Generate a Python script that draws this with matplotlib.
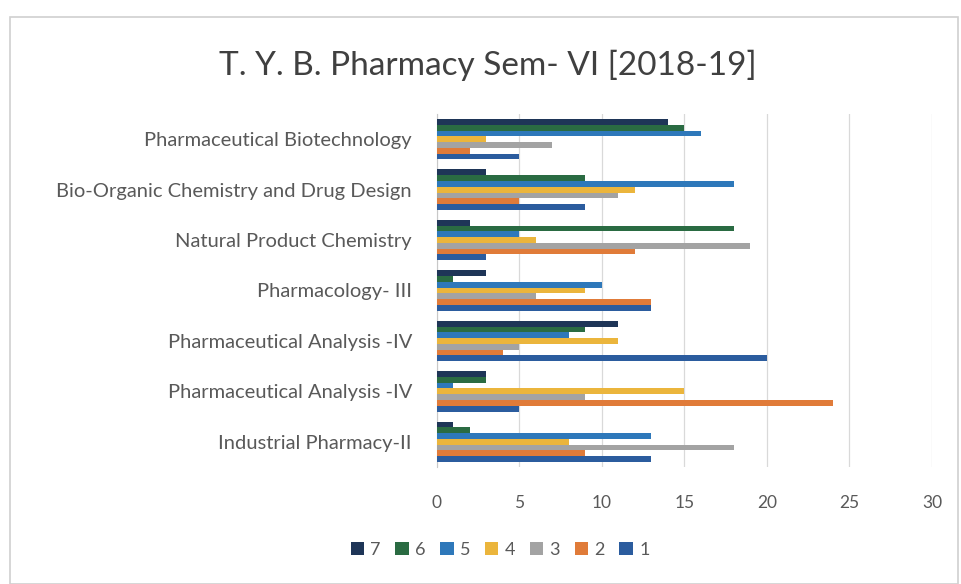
import matplotlib
matplotlib.use("Agg")
import matplotlib.pyplot as plt
import numpy as np
from matplotlib.patches import Rectangle

plt.rcParams['font.family'] = ['Lato', 'DejaVu Sans']

# categories, bottom to top (Excel order)
categories = ["Industrial Pharmacy-II",
              "Pharmaceutical Analysis -IV",
              "Pharmaceutical Analysis -IV",
              "Pharmacology- III",
              "Natural Product Chemistry",
              "Bio-Organic Chemistry and Drug Design",
              "Pharmaceutical Biotechnology"]

series_names = ["1", "2", "3", "4", "5", "6", "7"]
s1 = [13, 5, 20, 13, 3, 9, 5]
s2 = [9, 24, 4, 13, 12, 5, 2]
s3 = [18, 9, 5, 6, 19, 11, 7]
s4 = [8, 15, 11, 9, 6, 12, 3]
s5 = [13, 1, 8, 10, 5, 18, 16]
s6 = [2, 3, 9, 1, 18, 9, 15]
s7 = [1, 3, 11, 3, 2, 3, 14]
series = [s1, s2, s3, s4, s5, s6, s7]
colors = ["#2B5C9E", "#E07B39", "#A3A3A3", "#EBB53C", "#2E78BA", "#2A6B42", "#1E3557"]
xticks = [0, 5, 10, 15, 20, 25, 30]

fig = plt.figure(figsize=(9.62, 5.84), dpi=100)
fig.patches.append(Rectangle((10/962, 0), 948/962, 1 - 17/584, transform=fig.transFigure,
                             fill=False, edgecolor="#D0D0D0", linewidth=1.2))

ax = fig.add_axes([437/962, 1 - 467/584, (932 - 437)/962, (467 - 114)/584])

n = len(series)
bh = 0.8 / n
y = np.arange(len(categories))
for i, (vals, c, name) in enumerate(zip(series, colors, series_names)):
    ax.barh(y - 0.4 + bh * (i + 0.5), vals, height=bh, color=c, label=name, zorder=3)

ax.set_xlim(0, 30)
ax.set_ylim(-0.5, len(categories) - 0.5)
ax.set_xticks(xticks)
ax.set_xticklabels([str(t) for t in xticks])
ax.set_yticks(y)
ax.set_yticklabels(categories, fontsize=14.5)
ax.grid(axis='x', color="#D9D9D9", linewidth=0.9, zorder=0)
for s in ['top', 'right', 'bottom']:
    ax.spines[s].set_visible(False)
ax.spines['left'].set_color("#C8C8C8")
ax.tick_params(axis='both', length=0, colors="#595959")
ax.tick_params(axis='x', labelsize=12.5, pad=20)
ax.tick_params(axis='y', pad=18)

fig.text(488/962, 1 - 65/584, "T. Y. B. Pharmacy Sem- VI [2018-19]", ha='center', va='center',
         fontsize=24, color="#404040")

handles, labels = ax.get_legend_handles_labels()
leg = fig.legend(handles[::-1], labels[::-1], loc='center', bbox_to_anchor=(500/962, 1 - 550/584),
                 ncol=7, frameon=False, handlelength=0.75, handleheight=0.75, handletextpad=0.35,
                 columnspacing=0.8, fontsize=13)
for t in leg.get_texts():
    t.set_color("#595959")

fig.savefig("out.png", dpi=100)
